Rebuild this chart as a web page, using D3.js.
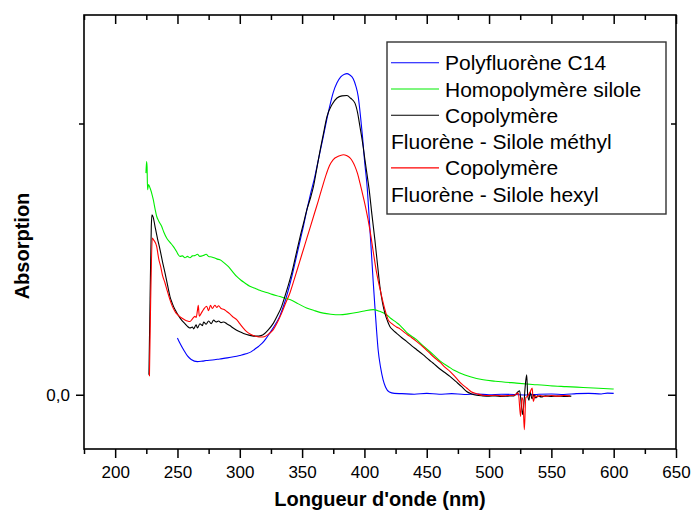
<!DOCTYPE html>
<html>
<head>
<meta charset="utf-8">
<script src="https://cdn.jsdelivr.net/npm/d3@7"></script>
<style>
  body { margin: 0; background: #fff; }
  svg { display: block; font-family: "Liberation Sans", Arial, sans-serif; }
  .axis path.domain { display: none; }
  .axis line { stroke: #000; stroke-width: 1.5; }
  .axis text { font-size: 17px; fill: #000; }
</style>
</head>
<body>
<div id="chart"></div>
<script>
// x ticks (nm) and y ticks
const xMajorTicks = [200, 250, 300, 350, 400, 450, 500, 550, 600, 650];
const xMinorTicks = [175, 225, 275, 325, 375, 425, 475, 525, 575, 625];
const yMajorTicks = [0];
const yMinorTicks = [1];
const yTickLabels = ["0,0"];

const seriesNames = [
    ["Polyfluorène C14"],
    ["Homopolymère silole"],
    ["Copolymère", "Fluorène - Silole méthyl"],
    ["Copolymère", "Fluorène - Silole hexyl"]
];
const seriesColors = ["#0000ff", "#00ee00", "#000000", "#ff0000"];

// [wavelength nm, absorption]
const polyfluorene = [
    [250,0.209],[252,0.19],[255,0.165],[258,0.143],[261,0.13],[266,0.122],[270,0.124],[273,0.126],
    [278,0.128],[284,0.132],[290,0.136],[295,0.14],[300,0.145],[305,0.151],[309,0.158],[312,0.168],
    [315,0.178],[318,0.19],[321,0.207],[324,0.227],[328,0.255],[332,0.289],[336,0.34],[339,0.387],
    [342,0.44],[345,0.5],[348,0.56],[351,0.62],[354,0.685],[357,0.745],[360,0.8],[363,0.865],
    [367,0.952],[371,1.04],[375,1.115],[378,1.15],[381,1.172],[384,1.182],[386,1.184],[388,1.18],
    [391,1.165],[393,1.14],[395,1.10],[397,1.02],[398.5,0.95],[400,0.867],[402.3,0.76],[404,0.64],
    [405.8,0.51],[407,0.42],[408.4,0.325],[409.7,0.24],[411,0.166],[413,0.1],[415,0.055],[417,0.028],
    [420,0.01],[424,0.005],[430,0.004],[440,0.002],[450,0.005],[460,0.002],[470,0.004],[480,0.001],
    [490,0.003],[500,0.0],[510,0.002],[520,0.001],[530,-0.001],[540,0.002],[550,0.003],[560,0.001],
    [570,0.004],[580,0.005],[590,0.003],[595,0.006],[600,0.005]
];

const homopolymere = [
    [224.7,0.817],[225.2,0.86],[225.6,0.84],[226,0.756],[226.8,0.775],[228,0.762],[229.5,0.74],
    [230.6,0.719],[232,0.685],[233.3,0.658],[235,0.64],[237.3,0.621],[239,0.6],[241.3,0.578],
    [244,0.562],[246.6,0.547],[249,0.53],[252,0.51],[254,0.512],[256,0.505],[258,0.51],[260,0.505],
    [262,0.512],[264,0.513],[266,0.518],[268,0.51],[270.7,0.513],[273,0.518],[275,0.51],[277.4,0.508],
    [280,0.504],[282,0.5],[284.1,0.498],[287,0.488],[290.7,0.473],[294,0.455],[297.5,0.436],
    [301,0.422],[304.1,0.412],[308,0.4],[312.2,0.393],[316,0.385],[321.5,0.377],[326,0.37],
    [332.2,0.362],[336,0.356],[340.2,0.351],[347,0.335],[353.6,0.32],[360,0.31],[367,0.301],
    [373,0.297],[380.3,0.295],[387,0.298],[393.7,0.303],[400,0.309],[407.1,0.314],[412,0.308],
    [417.8,0.295],[421,0.282],[425.8,0.266],[428.5,0.256],[433.8,0.23],[441.8,0.203],[447.2,0.18],
    [455.2,0.148],[460.6,0.125],[468.6,0.1],[472,0.09],[476.6,0.08],[485,0.066],[495.3,0.055],
    [505,0.05],[522,0.043],[535,0.038],[548.8,0.033],[562,0.03],[575.5,0.027],[588,0.024],[600,0.021]
];

const copoMethyl = [
    [227.1,0.074],[228,0.35],[229,0.62],[229.5,0.663],[230.5,0.655],[232,0.62],[234,0.575],[236,0.535],
    [238,0.49],[240,0.449],[242,0.405],[244,0.362],[246,0.335],[248,0.314],[250,0.298],[253,0.277],
    [256,0.262],[258,0.252],[260,0.246],[262,0.25],[263,0.243],[265,0.258],[266,0.246],[268,0.262],
    [270,0.255],[271,0.268],[273,0.26],[275,0.272],[277,0.262],[279,0.275],[281,0.268],[283,0.272],
    [285,0.266],[287,0.268],[289.5,0.262],[292,0.255],[295,0.245],[297.5,0.238],[300,0.232],
    [303,0.226],[305.5,0.222],[309,0.218],[313.5,0.216],[317,0.218],[320,0.226],[323,0.24],
    [327,0.264],[330,0.29],[333.6,0.326],[336,0.36],[339,0.405],[342,0.455],[345,0.515],[348,0.575],
    [351,0.63],[354,0.685],[357,0.73],[359,0.765],[361.6,0.829],[364,0.89],[367,0.96],[370,1.026],
    [374,1.07],[378,1.094],[382,1.102],[386,1.103],[389,1.093],[392.4,1.075],[394.5,1.04],
    [396.4,0.989],[398.5,0.93],[400.4,0.867],[402,0.815],[403.7,0.76],[406,0.665],[408.4,0.571],
    [410.5,0.48],[412.4,0.4],[414.5,0.34],[416.4,0.301],[418.5,0.272],[420.4,0.252],[423,0.238],
    [425.7,0.227],[430,0.21],[433.8,0.197],[438,0.18],[442,0.166],[447,0.148],[452,0.128],[455,0.117],
    [460.6,0.095],[465,0.08],[468.6,0.068],[473,0.05],[478,0.03],[482,0.012],[486,0.003],[490,-0.002],
    [495,-0.004],[500,-0.005],[505,-0.004],[510,-0.006],[515,-0.005],[520,-0.004],[523,0.01],
    [524.5,0.015],[526,-0.04],[527,-0.073],[528,-0.03],[529.2,0.04],[530.2,0.074],[531,0.0],
    [532,-0.02],[533,0.01],[534.5,-0.015],[536,0.0],[537.5,-0.012],[539,-0.004],[542,-0.008],
    [545,-0.004],[550,-0.006],[555,-0.005],[560,-0.006],[566,-0.005]
];

const copoHexyl = [
    [227.5,0.068],[228.5,0.35],[229.8,0.578],[231,0.57],[233.3,0.547],[235,0.5],[236.5,0.473],
    [238,0.44],[240,0.412],[242,0.38],[244,0.35],[246,0.325],[248,0.307],[250,0.295],[253.4,0.283],
    [256,0.276],[258,0.272],[260,0.27],[262,0.28],[264,0.289],[265,0.285],[266,0.31],[266.7,0.33],
    [267.5,0.29],[269,0.3],[271,0.315],[273.4,0.326],[275,0.31],[276.5,0.33],[278,0.318],[280,0.33],
    [281.5,0.322],[283,0.328],[285,0.318],[287,0.315],[289.5,0.307],[292,0.298],[295,0.285],
    [297.5,0.277],[300,0.262],[303,0.245],[305.5,0.233],[309,0.222],[313.5,0.215],[317,0.213],
    [320.2,0.215],[323.5,0.225],[326.9,0.24],[330,0.265],[333.6,0.301],[337,0.34],[340.2,0.375],
    [344,0.43],[348,0.49],[352,0.55],[356,0.61],[360,0.67],[363,0.715],[365.6,0.756],[369.7,0.817],
    [372,0.845],[375,0.867],[379,0.879],[383,0.885],[386,0.881],[388.4,0.873],[390.5,0.86],
    [392.4,0.842],[394.5,0.815],[396.4,0.781],[397.7,0.756],[401,0.69],[404.4,0.608],[407,0.53],
    [409.8,0.449],[412.5,0.39],[415.1,0.338],[417,0.305],[419.1,0.276],[422,0.262],[425.7,0.25],
    [428.5,0.243],[432,0.23],[436.5,0.215],[441.8,0.197],[447.2,0.176],[452,0.155],[455.2,0.141],
    [460.6,0.12],[465,0.1],[468.6,0.086],[473,0.065],[478,0.04],[482,0.025],[486,0.01],[490,0.004],
    [495,-0.002],[500,-0.003],[505,-0.002],[510,-0.004],[515,-0.003],[520,-0.002],[523.5,0.006],
    [525.3,-0.08],[526.3,-0.01],[527.2,-0.02],[528.3,-0.129],[529.5,-0.01],[531,-0.005],[533,0.01],
    [534.6,0.025],[535.5,-0.025],[537,-0.003],[538.5,-0.008],[541,-0.003],[545,-0.006],[550,-0.003],
    [555,-0.005],[560,-0.003],[565,-0.004]
];

const allSeries = [polyfluorene, homopolymere, copoMethyl, copoHexyl];

document.addEventListener("DOMContentLoaded", function() {
    drawChart();
});

function drawChart() {
    const width = 691, height = 516;
    const left = 84, right = 676, top = 15, bottom = 449;

    const svg = d3.select("#chart").append("svg")
        .attr("width", width)
        .attr("height", height);

    const x = d3.scaleLinear().domain([175, 650]).range([left, right]);
    const y = d3.scaleLinear().domain([-0.2, 1.4]).range([bottom, top]);

    svg.append("defs").append("clipPath")
        .attr("id", "plot-clip")
        .append("rect")
        .attr("x", left).attr("y", top)
        .attr("width", right - left).attr("height", bottom - top);

    const line = d3.line()
        .x(d => x(d[0]))
        .y(d => y(d[1]))
        .curve(d3.curveMonotoneX);

    const curves = svg.append("g").attr("clip-path", "url(#plot-clip)");
    allSeries.forEach((s, i) => {
        curves.append("path")
            .datum(s)
            .attr("fill", "none")
            .attr("stroke", seriesColors[i])
            .attr("stroke-width", 1.1)
            .attr("d", line);
    });

    // bottom axis, ticks outside
    svg.append("g").attr("class", "axis")
        .attr("transform", `translate(0,${bottom})`)
        .call(d3.axisBottom(x).tickValues(xMajorTicks).tickSize(9).tickPadding(8).tickFormat(d3.format("d")));
    svg.append("g").attr("class", "axis")
        .attr("transform", `translate(0,${bottom})`)
        .call(d3.axisBottom(x).tickValues(xMinorTicks).tickSize(5).tickFormat(""));

    // top axis, ticks inside
    svg.append("g").attr("class", "axis")
        .attr("transform", `translate(0,${top})`)
        .call(d3.axisTop(x).tickValues(xMajorTicks).tickSize(-9).tickFormat(""));
    svg.append("g").attr("class", "axis")
        .attr("transform", `translate(0,${top})`)
        .call(d3.axisTop(x).tickValues(xMinorTicks).tickSize(-5).tickFormat(""));

    // left axis
    svg.append("g").attr("class", "axis")
        .attr("transform", `translate(${left},0)`)
        .call(d3.axisLeft(y).tickValues(yMajorTicks).tickSize(8).tickPadding(6)
            .tickFormat((d, i) => yTickLabels[i]));
    svg.append("g").attr("class", "axis")
        .attr("transform", `translate(${left},0)`)
        .call(d3.axisLeft(y).tickValues(yMinorTicks).tickSize(5).tickFormat(""));

    // right axis, ticks inside
    svg.append("g").attr("class", "axis")
        .attr("transform", `translate(${right},0)`)
        .call(d3.axisRight(y).tickValues(yMajorTicks).tickSize(-8).tickFormat(""));
    svg.append("g").attr("class", "axis")
        .attr("transform", `translate(${right},0)`)
        .call(d3.axisRight(y).tickValues(yMinorTicks).tickSize(-5).tickFormat(""));

    svg.append("rect")
        .attr("x", left).attr("y", top)
        .attr("width", right - left).attr("height", bottom - top)
        .attr("fill", "none")
        .attr("stroke", "#000")
        .attr("stroke-width", 1.6);

    // axis titles
    svg.append("text")
        .attr("x", (left + right) / 2)
        .attr("y", 506)
        .attr("text-anchor", "middle")
        .style("font-size", "20px")
        .style("font-weight", "bold")
        .text("Longueur d'onde (nm)");

    svg.append("text")
        .attr("transform", "translate(29,246) rotate(-90)")
        .attr("text-anchor", "middle")
        .style("font-size", "20px")
        .style("font-weight", "bold")
        .text("Absorption");

    // legend
    const legend = svg.append("g");
    legend.append("rect")
        .attr("x", 387).attr("y", 42)
        .attr("width", 279).attr("height", 172)
        .attr("fill", "#fff")
        .attr("stroke", "#333")
        .attr("stroke-width", 1.4);

    const rowStep = 26.3;
    let row = 0;
    seriesNames.forEach((names, i) => {
        const ry = 62.7 + row * rowStep;
        legend.append("line")
            .attr("x1", 391).attr("x2", 439)
            .attr("y1", ry).attr("y2", ry)
            .attr("stroke", seriesColors[i])
            .attr("stroke-width", 1.1);
        legend.append("text")
            .attr("x", 445).attr("y", ry)
            .attr("dy", "0.36em")
            .style("font-size", "21px")
            .text(names[0]);
        row++;
        if (names.length > 1) {
            legend.append("text")
                .attr("x", 391).attr("y", 62.7 + row * rowStep)
                .attr("dy", "0.36em")
                .style("font-size", "21px")
                .text(names[1]);
            row++;
        }
    });
}
</script>
</body>
</html>
